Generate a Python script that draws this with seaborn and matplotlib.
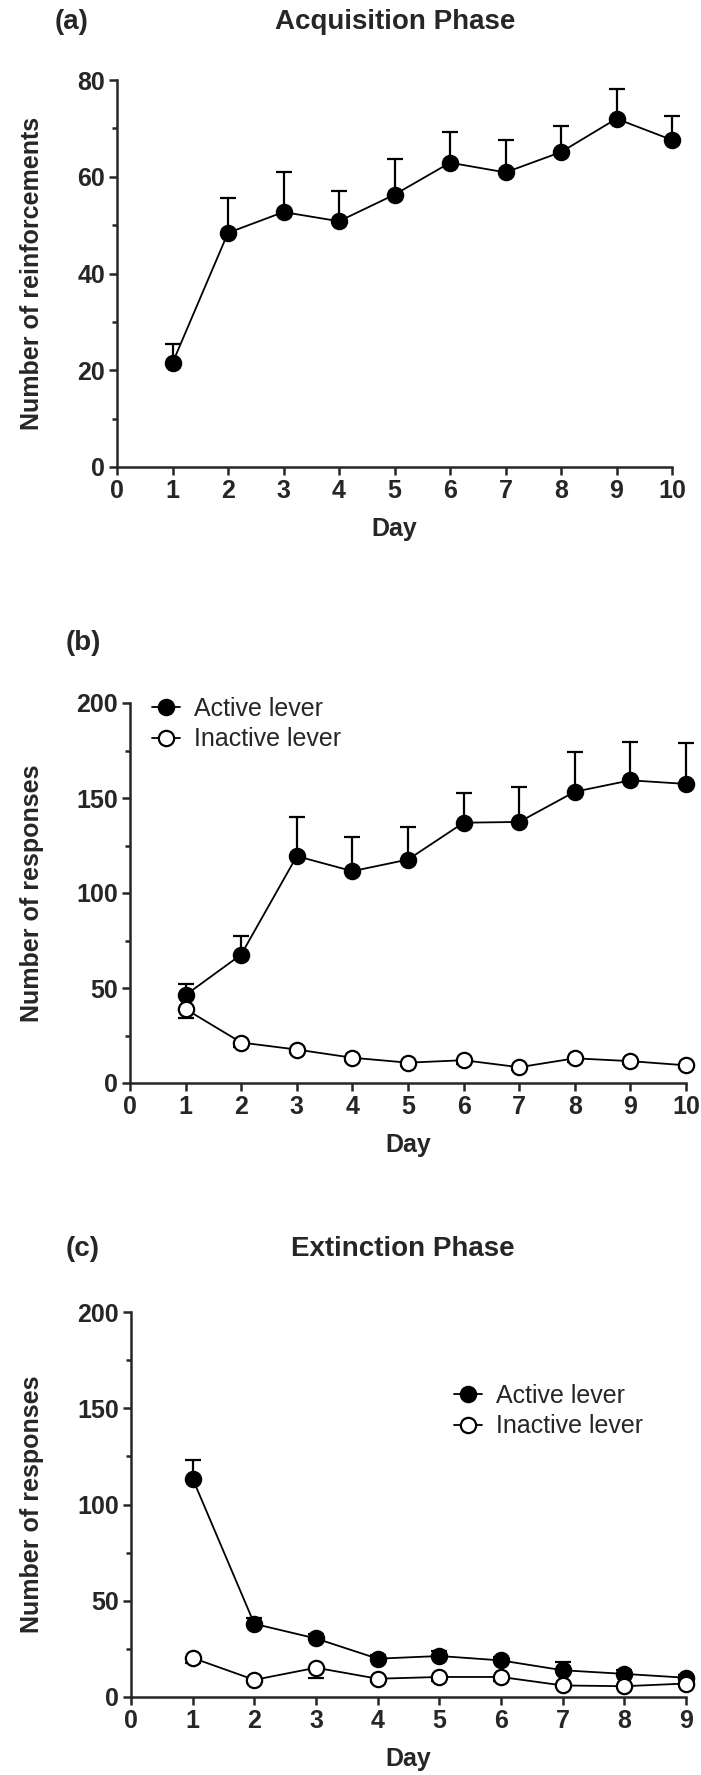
import numpy as np
import seaborn as sns
import matplotlib.pyplot as plt
from matplotlib.ticker import MultipleLocator

# acquisition phase (a)
acq_days = [1, 2, 3, 4, 5, 6, 7, 8, 9, 10]
acq_reinf = [21.5, 48.4, 52.7, 50.8, 56.3, 62.9, 60.9, 65.1, 72.0, 67.6]
acq_reinf_sem = [4.0, 7.3, 8.2, 6.2, 7.4, 6.4, 6.6, 5.4, 6.1, 5.0]

# lever responses during acquisition (b)
acq_active = [46.3, 67.6, 119.4, 111.5, 117.6, 137.0, 137.4, 153.3, 159.3, 157.4]
acq_active_sem = [5.9, 9.8, 20.8, 17.9, 17.2, 15.8, 18.2, 21.1, 20.0, 21.7]
acq_inactive = [38.9, 21.3, 17.6, 13.3, 10.7, 12.0, 8.3, 13.0, 11.5, 9.3]
acq_inactive_sem = [4.6, 2.5, 2.0, 1.8, 1.5, 2.0, 1.2, 2.2, 1.5, 1.3]

# extinction phase (c)
ext_days = [1, 2, 3, 4, 5, 6, 7, 8, 9]
ext_active = [113.4, 38.0, 30.4, 19.9, 21.3, 19.0, 13.9, 12.0, 10.0]
ext_active_sem = [9.5, 3.0, 2.5, 2.0, 2.5, 2.0, 4.2, 2.0, 1.5]
ext_inactive = [20.3, 8.9, 15.2, 9.5, 10.4, 10.4, 6.0, 5.6, 7.0]
ext_inactive_sem = [2.5, 1.5, 5.3, 1.5, 2.0, 2.0, 1.0, 1.0, 1.2]

sns.set_style("ticks")
plt.rcParams["font.family"] = ["Liberation Sans", "DejaVu Sans"]

W, H = 701, 1775
fig = plt.figure(figsize=(W / 100, H / 100), dpi=100)


def px_axes(left, top, right, bottom):
    return fig.add_axes([left / W, 1 - bottom / H, (right - left) / W, (bottom - top) / H])


def draw_series(ax, days, mean, sem, filled, label=None, up=True):
    err = [np.zeros(len(sem)), sem] if up else [sem, np.zeros(len(sem))]
    ax.errorbar(days, mean, yerr=err, fmt="none", ecolor="black", elinewidth=1.6,
                capsize=6, capthick=1.6, zorder=2, clip_on=False)
    sns.lineplot(x=days, y=mean, ax=ax, color="black", linewidth=1.3, marker="o",
                 markersize=11, markeredgewidth=1.6, markeredgecolor="black",
                 markerfacecolor="black" if filled else "white",
                 label=label, zorder=3, clip_on=False)


def style(ax, xmax, ymax, ymajor, yminor, ylabel, lab_x):
    ax.set_xlim(0, xmax)
    ax.set_ylim(0, ymax)
    ax.xaxis.set_major_locator(MultipleLocator(1))
    ax.yaxis.set_major_locator(MultipleLocator(ymajor))
    ax.yaxis.set_minor_locator(MultipleLocator(yminor))
    sns.despine(ax=ax)
    for s in ["left", "bottom"]:
        ax.spines[s].set_linewidth(1.8)
    ax.tick_params(which="major", length=5.5, width=1.8, labelsize=18, pad=3)
    ax.tick_params(axis="y", which="minor", length=3.5, width=1.8)
    for t in ax.get_xticklabels() + ax.get_yticklabels():
        t.set_fontweight("bold")
    ax.set_xlabel("Day", fontsize=18, fontweight="bold")
    ax.set_ylabel(ylabel, fontsize=18, fontweight="bold")
    ax.xaxis.label.set_va("center")
    ax.yaxis.label.set_va("center")
    h = ax.get_position().height * H
    w = ax.get_position().width * W
    ax.xaxis.set_label_coords(0.5, -62 / h)
    ax.yaxis.set_label_coords(lab_x / w, 0.5)


# panel (a)
ax_a = px_axes(117, 80, 672, 467)
draw_series(ax_a, acq_days, acq_reinf, acq_reinf_sem, True)
style(ax_a, 10, 80, 20, 10, "Number of reinforcements", 32 - 117)
if ax_a.get_legend():
    ax_a.get_legend().remove()

# panel (b)
ax_b = px_axes(130, 703, 686, 1083)
draw_series(ax_b, acq_days, acq_active, acq_active_sem, True, "Active lever", up=True)
draw_series(ax_b, acq_days, acq_inactive, acq_inactive_sem, False, "Inactive lever", up=False)
style(ax_b, 10, 200, 50, 25, "Number of responses", 32 - 130)

# panel (c)
ax_c = px_axes(131, 1312, 686, 1697)
draw_series(ax_c, ext_days, ext_active, ext_active_sem, True, "Active lever", up=True)
draw_series(ax_c, ext_days, ext_inactive, ext_inactive_sem, False, "Inactive lever", up=False)
style(ax_c, 9, 200, 50, 25, "Number of responses", 32 - 131)

for ax, (lx, ly) in [(ax_b, (152, 697)), (ax_c, (454, 1384))]:
    ax.legend(loc="upper left", bbox_to_anchor=(lx / W, 1 - ly / H),
              bbox_transform=fig.transFigure, frameon=False, fontsize=18,
              handlelength=1.1, handletextpad=0.6, labelspacing=0.25,
              borderpad=0, borderaxespad=0)

# panel letters and titles
fig.text(72 / W, 1 - 22 / H, "(a)", fontsize=20, fontweight="bold", ha="center", va="center")
fig.text(395 / W, 1 - 22 / H, "Acquisition Phase", fontsize=20, fontweight="bold",
         ha="center", va="center")
fig.text(83 / W, 1 - 643 / H, "(b)", fontsize=20, fontweight="bold", ha="center", va="center")
fig.text(83 / W, 1 - 1249 / H, "(c)", fontsize=20, fontweight="bold", ha="center", va="center")
fig.text(403 / W, 1 - 1249 / H, "Extinction Phase", fontsize=20, fontweight="bold",
         ha="center", va="center")

fig.savefig("out.png", dpi=100)
